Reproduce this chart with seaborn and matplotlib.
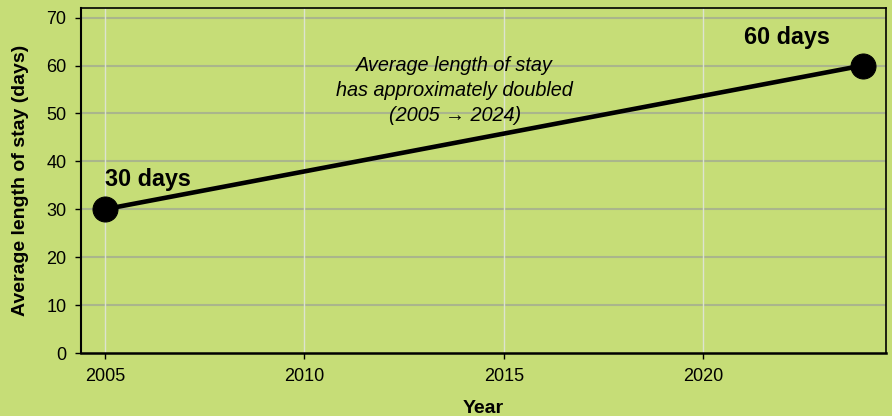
import matplotlib
matplotlib.use("Agg")
import matplotlib.pyplot as plt
import seaborn as sns
import pandas as pd

years = [2005, 2024]
stay_days = [30, 60]
point_labels = ["30 days", "60 days"]
x_ticks = [2005, 2010, 2015, 2020]
y_ticks = [0, 10, 20, 30, 40, 50, 60, 70]

bg = "#c6dd77"
sns.set_theme(style="ticks")
plt.rcParams["font.family"] = ["Liberation Sans", "DejaVu Sans"]
plt.rcParams["text.color"] = "black"
plt.rcParams["axes.labelcolor"] = "black"

df = pd.DataFrame({"Year": years, "Stay": stay_days})

fig = plt.figure(figsize=(8.92, 4.16), dpi=100, facecolor=bg)
ax = fig.add_axes([81/892, 1-353/416, (886-81)/892, (353-8)/416])
ax.set_facecolor(bg)

sns.lineplot(data=df, x="Year", y="Stay", ax=ax, color="black", linewidth=3.3,
             marker="o", markersize=18, markeredgecolor="black", zorder=5)

ax.set_xlim(2004.4, 2024.58)
ax.set_ylim(0, 72)
ax.set_xticks(x_ticks)
ax.set_yticks(y_ticks)
ax.tick_params(axis="both", labelsize=13, length=4.5, width=1, pad=6,
               color="black", labelcolor="black")

for y in y_ticks[1:]:
    ax.axhline(y, color="#aab58c", linewidth=1.5, zorder=1)
for x in x_ticks:
    ax.axvline(x, color="#dde3d0", linewidth=1, zorder=1)

for s in ax.spines.values():
    s.set_color("black")
    s.set_linewidth(1.2)
ax.spines["bottom"].set_linewidth(1.8)
ax.spines["left"].set_linewidth(1.5)

ax.set_xlabel("Year", fontsize=14, fontweight="bold", labelpad=11)
ax.set_ylabel("Average length of stay (days)", fontsize=14, fontweight="bold", labelpad=12)

ax.annotate(point_labels[0], xy=(years[0], stay_days[0]), xytext=(0, 13),
            textcoords="offset points", ha="left", va="bottom",
            fontsize=16.8, fontweight="bold", zorder=6)
ax.annotate(point_labels[1], xy=(years[1], stay_days[1]), xytext=(-55, 12),
            textcoords="offset points", ha="center", va="bottom",
            fontsize=16.8, fontweight="bold", zorder=6)

ax.text(2013.77, 54.8, "Average length of stay\nhas approximately doubled\n(2005 \u2192 2024)",
        ha="center", va="center", fontsize=14.3, style="italic", linespacing=1.42,
        family=["Liberation Sans", "DejaVu Sans"], zorder=6)

fig.savefig("out.png", dpi=100, facecolor=bg)
